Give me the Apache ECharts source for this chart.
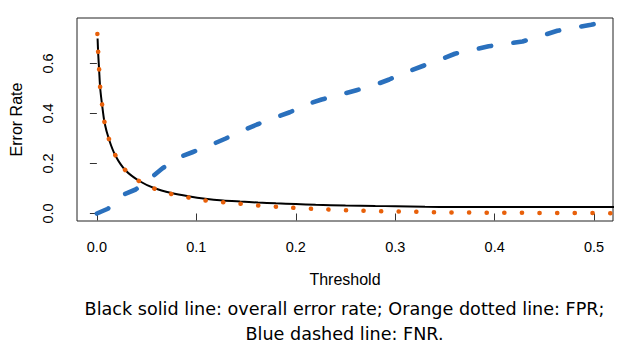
<!DOCTYPE html>
<html>
<head>
<meta charset="utf-8">
<script src="https://cdn.jsdelivr.net/npm/echarts@6/dist/echarts.min.js"></script>
<style>
html,body{margin:0;padding:0;background:#fff;}
#chart{width:626px;height:355px;}
</style>
</head>
<body>
<div id="chart"></div>
<script>
// Overall error rate (black solid)
var errX = [0.0007, 0.0013, 0.0023, 0.0033, 0.0053, 0.0077, 0.0123, 0.0187, 0.0287, 0.0427, 0.058, 0.075, 0.092, 0.109, 0.127, 0.144, 0.162, 0.18, 0.2, 0.22, 0.25, 0.28, 0.3, 0.33, 0.36, 0.4, 0.45, 0.5, 0.52];
var errY = [0.700, 0.640, 0.570, 0.502, 0.432, 0.363, 0.295, 0.231, 0.173, 0.130, 0.101, 0.082, 0.069, 0.059, 0.052, 0.048, 0.044, 0.041, 0.038, 0.035, 0.032, 0.030, 0.029, 0.027, 0.026, 0.026, 0.026, 0.026, 0.026];
// FPR (orange dotted)
var fprX = [0.0005, 0.0013, 0.0023, 0.0033, 0.0053, 0.0077, 0.0123, 0.0187, 0.0287, 0.0427, 0.058, 0.075, 0.0923, 0.109, 0.127, 0.144, 0.162, 0.18, 0.197, 0.215, 0.232, 0.25, 0.267, 0.285, 0.302, 0.32, 0.338, 0.355, 0.373, 0.39, 0.408, 0.425, 0.443, 0.46, 0.478, 0.496, 0.52];
var fprY = [0.718, 0.644, 0.573, 0.504, 0.433, 0.364, 0.296, 0.232, 0.173, 0.129, 0.099, 0.078, 0.064, 0.052, 0.045, 0.039, 0.032, 0.027, 0.023, 0.019, 0.016, 0.013, 0.011, 0.009, 0.008, 0.007, 0.005, 0.004, 0.004, 0.003, 0.003, 0.003, 0.002, 0.002, 0.002, 0.002, 0.001];
// FNR (blue dashed)
var fnrX = [0, 0.011, 0.026, 0.039, 0.055, 0.066, 0.083, 0.096, 0.115, 0.129, 0.147, 0.161, 0.18, 0.194, 0.213, 0.226, 0.246, 0.261, 0.28, 0.294, 0.313, 0.327, 0.346, 0.36, 0.379, 0.394, 0.414, 0.428, 0.448, 0.463, 0.482, 0.497, 0.52];
var fnrY = [0, 0.019, 0.075, 0.096, 0.145, 0.181, 0.225, 0.245, 0.275, 0.299, 0.332, 0.356, 0.385, 0.405, 0.439, 0.456, 0.477, 0.493, 0.515, 0.536, 0.568, 0.589, 0.617, 0.639, 0.656, 0.669, 0.680, 0.688, 0.712, 0.731, 0.745, 0.755, 0.776];
// Tick labels
var xTicks = [0, 0.1, 0.2, 0.3, 0.4, 0.5];
var yTicks = [0, 0.2, 0.4, 0.6];
var xTitle = 'Threshold';
var yTitle = 'Error Rate';
var caption = 'Black solid line: overall error rate; Orange dotted line: FPR;\nBlue dashed line: FNR.';

function zip(a, b) { return a.map(function (v, i) { return [v, b[i]]; }); }

var chart = echarts.init(document.getElementById('chart'), null, {renderer: 'svg'});
var tickFont = 'Liberation Sans, Arial, sans-serif';
chart.setOption({
  animation: false,
  backgroundColor: '#fff',
  grid: {left: 74, top: 18, width: 539, height: 203, show: true, borderColor: '#222', borderWidth: 1, backgroundColor: 'transparent'},
  xAxis: {
    type: 'value', min: -0.02, max: 0.519,
    name: xTitle, nameLocation: 'middle', nameGap: 50,
    nameTextStyle: {fontFamily: tickFont, fontSize: 16, color: '#000'},
    axisLine: {show: false},
    splitLine: {show: false},
    axisTick: {show: true, length: 7, inside: false, customValues: xTicks, lineStyle: {color: '#333', width: 1}},
    axisLabel: {customValues: xTicks, margin: 18, fontFamily: tickFont, fontSize: 14.5, color: '#000',
      formatter: function (v) { return v.toFixed(1); }}
  },
  yAxis: {
    type: 'value', min: -0.03, max: 0.782,
    name: yTitle, nameLocation: 'middle', nameGap: 53, nameRotate: 90,
    nameTextStyle: {fontFamily: tickFont, fontSize: 16, color: '#000'},
    axisLine: {show: false},
    splitLine: {show: false},
    axisTick: {show: true, length: 7, inside: false, customValues: yTicks, lineStyle: {color: '#333', width: 1}},
    axisLabel: {customValues: yTicks, margin: 22, rotate: 90, fontFamily: tickFont, fontSize: 14.5, color: '#000',
      formatter: function (v) { return v.toFixed(1); }}
  },
  series: [
    {type: 'line', name: 'FNR', data: zip(fnrX, fnrY), showSymbol: false, clip: true, smooth: false,
      lineStyle: {color: '#2A70BD', width: 4.6, type: [12.5, 22.5], cap: 'round', join: 'round'}},
    {type: 'line', name: 'Overall error rate', data: zip(errX, errY), showSymbol: false, clip: true, smooth: 0.2,
      lineStyle: {color: '#000', width: 2}},
    {type: 'line', name: 'FPR', data: zip(fprX, fprY), showSymbol: false, clip: true, smooth: 0.2,
      lineStyle: {color: '#E8600A', width: 4.6, type: [0.1, 17.5], cap: 'round', join: 'round'}}
  ],
  graphic: [{
    type: 'text', x: 344.5, y: 296,
    style: {text: caption, fontFamily: 'DejaVu Sans, sans-serif', fontSize: 17.6, lineHeight: 25, fill: '#000', align: 'center', verticalAlign: 'top'}
  }]
});
</script>
</body>
</html>
